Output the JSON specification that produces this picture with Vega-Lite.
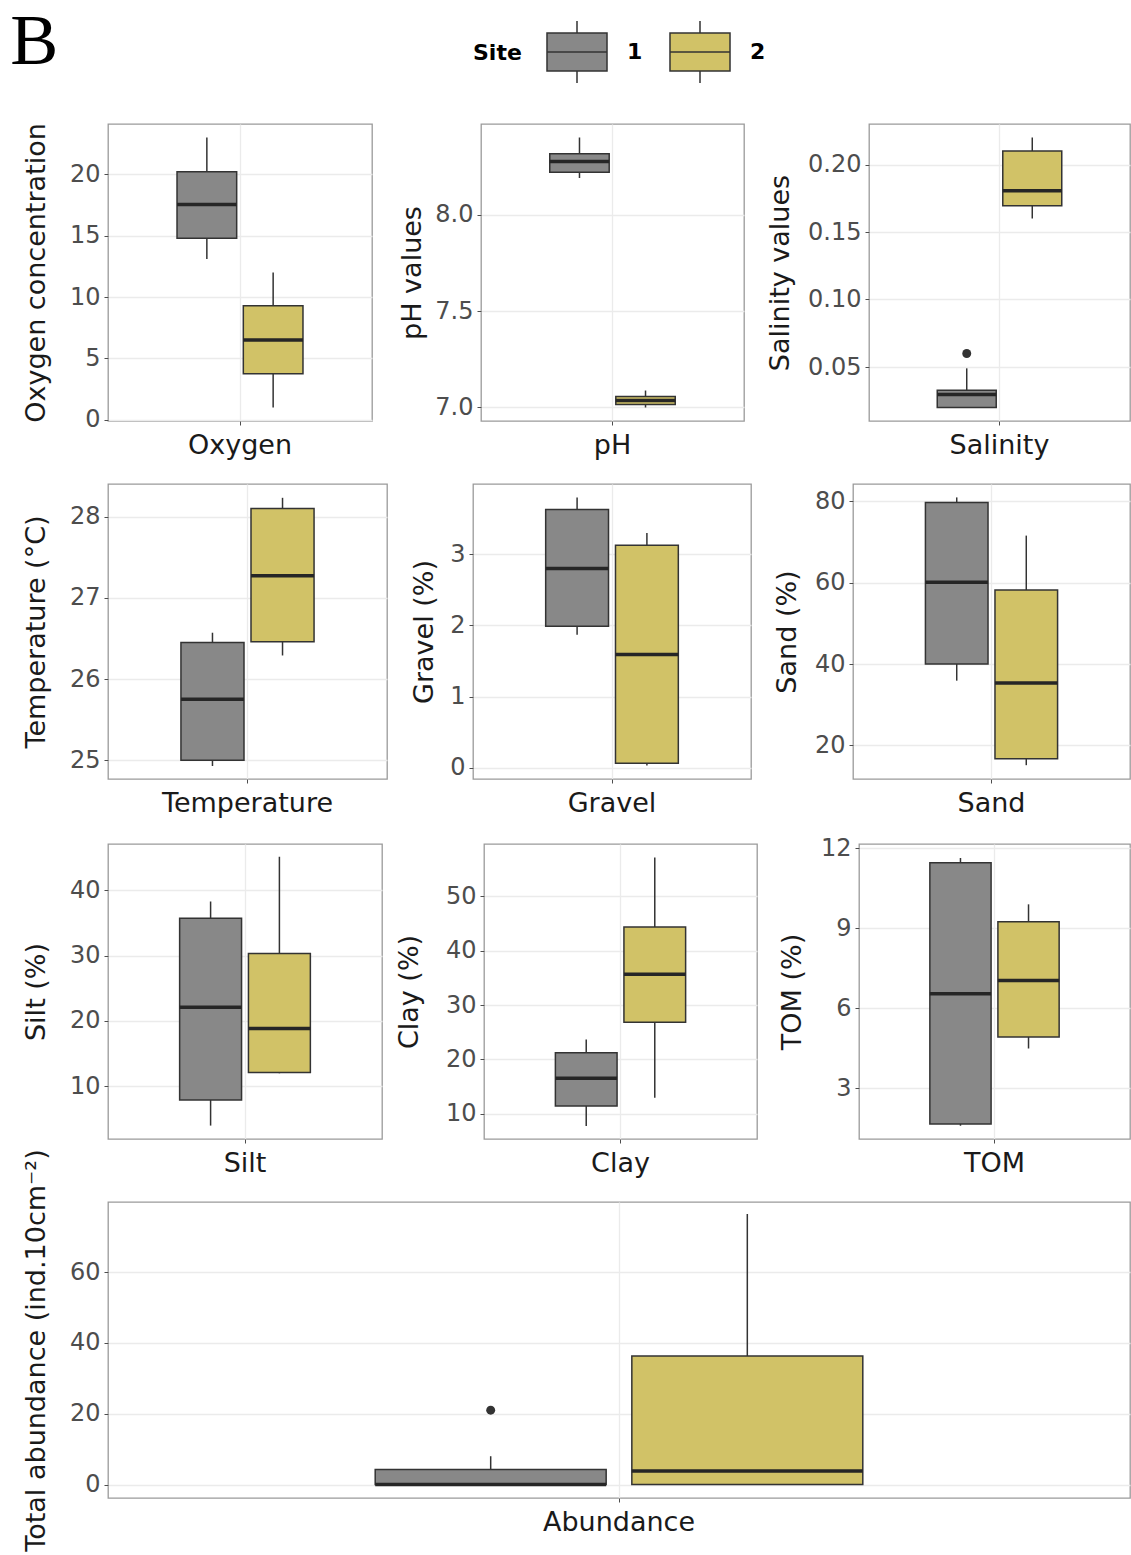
{
  "$schema": "https://vega.github.io/schema/vega-lite/v6.json",
  "background": "white",
  "padding": {"left": 10, "top": 6, "right": 1, "bottom": 0},
  "title": {"text": "B", "anchor": "start", "font": "Liberation Serif", "fontSize": 72, "fontWeight": "normal", "color": "#000000", "offset": 0, "dx": -12, "dy": 59},
  "datasets": {
    "boxes": [
      {"var": "Oxygen", "site": "1", "lo": 13.1, "q1": 14.8, "med": 17.55, "q3": 20.2, "hi": 23.0},
      {"var": "Oxygen", "site": "2", "lo": 1.0, "q1": 3.75, "med": 6.5, "q3": 9.3, "hi": 12.0},
      {"var": "pH", "site": "1", "lo": 8.19, "q1": 8.22, "med": 8.275, "q3": 8.316, "hi": 8.40},
      {"var": "pH", "site": "2", "lo": 7.0, "q1": 7.015, "med": 7.036, "q3": 7.057, "hi": 7.088},
      {"var": "Salinity", "site": "1", "lo": 0.02, "q1": 0.02, "med": 0.0297, "q3": 0.0327, "hi": 0.049},
      {"var": "Salinity", "site": "2", "lo": 0.16, "q1": 0.1694, "med": 0.1805, "q3": 0.21, "hi": 0.22},
      {"var": "Temperature", "site": "1", "lo": 24.93, "q1": 25.0, "med": 25.75, "q3": 26.45, "hi": 26.57},
      {"var": "Temperature", "site": "2", "lo": 26.29, "q1": 26.46, "med": 27.27, "q3": 28.10, "hi": 28.23},
      {"var": "Gravel", "site": "1", "lo": 1.87, "q1": 1.99, "med": 2.80, "q3": 3.63, "hi": 3.80},
      {"var": "Gravel", "site": "2", "lo": 0.03, "q1": 0.06, "med": 1.59, "q3": 3.13, "hi": 3.30},
      {"var": "Sand", "site": "1", "lo": 35.9, "q1": 40.0, "med": 60.1, "q3": 79.75, "hi": 81.0},
      {"var": "Sand", "site": "2", "lo": 15.1, "q1": 16.7, "med": 35.3, "q3": 58.2, "hi": 71.6},
      {"var": "Silt", "site": "1", "lo": 4.0, "q1": 7.9, "med": 22.1, "q3": 35.7, "hi": 38.26},
      {"var": "Silt", "site": "2", "lo": 12.0, "q1": 12.1, "med": 18.85, "q3": 30.3, "hi": 45.1},
      {"var": "Clay", "site": "1", "lo": 7.74, "q1": 11.4, "med": 16.5, "q3": 21.2, "hi": 23.67},
      {"var": "Clay", "site": "2", "lo": 12.94, "q1": 26.85, "med": 35.7, "q3": 44.36, "hi": 57.17},
      {"var": "TOM", "site": "1", "lo": 1.60, "q1": 1.66, "med": 6.54, "q3": 11.45, "hi": 11.63},
      {"var": "TOM", "site": "2", "lo": 4.49, "q1": 4.92, "med": 7.04, "q3": 9.24, "hi": 9.89},
      {"var": "Abundance", "site": "1", "lo": 0, "q1": 0, "med": 0, "q3": 4.25, "hi": 8.0},
      {"var": "Abundance", "site": "2", "lo": 0, "q1": 0, "med": 3.86, "q3": 36.3, "hi": 76.4}
    ],
    "outliers": [
      {"var": "Salinity", "site": "1", "value": 0.06},
      {"var": "Abundance", "site": "1", "value": 21.0}
    ]
  },
  "vconcat": [
    {
      "hconcat": [
        {
          "width": 264, "height": 297,
          "data": {"name": "boxes"},
          "transform": [{"filter": "datum.var === 'Oxygen'"}],
          "encoding": {
            "x": {"field": "var", "type": "nominal", "scale": {"paddingOuter": 0.548, "paddingInner": 0}, "axis": {"title": null, "labelAngle": 0, "labelFontSize": 27, "labelColor": "#1a1a1a", "labelPadding": 7, "grid": true, "bandPosition": 0.5}},
            "xOffset": {"field": "site", "type": "nominal", "scale": {"domain": ["1", "2"], "paddingInner": 0.1, "paddingOuter": 0}}
          },
          "layer": [
            {"mark": {"type": "rule", "color": "#333333", "strokeWidth": 1.5}, "encoding": {"y": {"field": "lo", "type": "quantitative", "scale": {"domain": [-0.1, 24.1], "nice": false, "zero": false}, "axis": {"title": "Oxygen concentration", "titlePadding": 18.5, "values": [0, 5, 10, 15, 20], "format": "d"}}, "y2": {"field": "hi"}}},
            {"mark": {"type": "bar", "stroke": "#333333", "strokeWidth": 1.5}, "encoding": {"y": {"field": "q1", "type": "quantitative"}, "y2": {"field": "q3"}, "fill": {"field": "site", "type": "nominal", "scale": {"domain": ["1", "2"], "range": ["#888888", "#D1C267"]}, "legend": {"title": "Site", "orient": "none", "legendX": 365, "legendY": -104, "direction": "horizontal", "titleOrient": "left"}}}},
            {"mark": {"type": "bar", "fill": "transparent", "stroke": "#262626", "strokeWidth": 3.5}, "encoding": {"y": {"field": "med", "type": "quantitative"}, "y2": {"field": "med"}}}
          ]
        },
        {
          "hconcat": [
            {
              "width": 263, "height": 297,
              "data": {"name": "boxes"},
              "transform": [{"filter": "datum.var === 'pH'"}],
              "encoding": {
                "x": {"field": "var", "type": "nominal", "scale": {"paddingOuter": 0.548, "paddingInner": 0}, "axis": {"title": null, "labelAngle": 0, "labelFontSize": 27, "labelColor": "#1a1a1a", "labelPadding": 7, "grid": true, "bandPosition": 0.5}},
                "xOffset": {"field": "site", "type": "nominal", "scale": {"domain": ["1", "2"], "paddingInner": 0.1, "paddingOuter": 0}}
              },
              "layer": [
                {"mark": {"type": "rule", "color": "#333333", "strokeWidth": 1.5}, "encoding": {"y": {"field": "lo", "type": "quantitative", "scale": {"domain": [6.93, 8.47], "nice": false, "zero": false}, "axis": {"title": "pH values", "titlePadding": 8, "values": [7.0, 7.5, 8.0], "format": ".1f"}}, "y2": {"field": "hi"}}},
                {"mark": {"type": "bar", "stroke": "#333333", "strokeWidth": 1.5}, "encoding": {"y": {"field": "q1", "type": "quantitative"}, "y2": {"field": "q3"}, "fill": {"field": "site", "type": "nominal", "scale": {"domain": ["1", "2"], "range": ["#888888", "#D1C267"]}, "legend": {"title": "Site", "orient": "none", "legendX": 365, "legendY": -104, "direction": "horizontal", "titleOrient": "left"}}}},
                {"mark": {"type": "bar", "fill": "transparent", "stroke": "#262626", "strokeWidth": 3.5}, "encoding": {"y": {"field": "med", "type": "quantitative"}, "y2": {"field": "med"}}}
              ]
            },
            {
              "width": 261, "height": 297,
              "data": {"name": "boxes"},
              "transform": [{"filter": "datum.var === 'Salinity'"}],
              "encoding": {
                "x": {"field": "var", "type": "nominal", "scale": {"paddingOuter": 0.548, "paddingInner": 0}, "axis": {"title": null, "labelAngle": 0, "labelFontSize": 27, "labelColor": "#1a1a1a", "labelPadding": 7, "grid": true, "bandPosition": 0.5}},
                "xOffset": {"field": "site", "type": "nominal", "scale": {"domain": ["1", "2"], "paddingInner": 0.1, "paddingOuter": 0}}
              },
              "layer": [
                {"mark": {"type": "rule", "color": "#333333", "strokeWidth": 1.5}, "encoding": {"y": {"field": "lo", "type": "quantitative", "scale": {"domain": [0.01, 0.23], "nice": false, "zero": false}, "axis": {"title": "Salinity values", "titlePadding": 13.5, "values": [0.05, 0.1, 0.15, 0.2], "format": ".2f"}}, "y2": {"field": "hi"}}},
                {"mark": {"type": "bar", "stroke": "#333333", "strokeWidth": 1.5}, "encoding": {"y": {"field": "q1", "type": "quantitative"}, "y2": {"field": "q3"}, "fill": {"field": "site", "type": "nominal", "scale": {"domain": ["1", "2"], "range": ["#888888", "#D1C267"]}, "legend": {"title": "Site", "orient": "none", "legendX": 365, "legendY": -104, "direction": "horizontal", "titleOrient": "left"}}}},
                {"mark": {"type": "bar", "fill": "transparent", "stroke": "#262626", "strokeWidth": 3.5}, "encoding": {"y": {"field": "med", "type": "quantitative"}, "y2": {"field": "med"}}},
                {"data": {"name": "outliers"}, "transform": [{"filter": "datum.var === 'Salinity'"}], "mark": {"type": "point", "filled": true, "color": "#333333", "size": 80, "opacity": 1}, "encoding": {"y": {"field": "value", "type": "quantitative"}}}
              ]
            }
          ],
          "spacing": 20,
          "resolve": {"scale": {"xOffset": "independent"}}
        }
      ],
      "spacing": 25,
      "resolve": {"scale": {"xOffset": "independent"}}
    },
    {
      "vconcat": [
        {
          "hconcat": [
            {
              "width": 279, "height": 295,
              "data": {"name": "boxes"},
              "transform": [{"filter": "datum.var === 'Temperature'"}],
              "encoding": {
                "x": {"field": "var", "type": "nominal", "scale": {"paddingOuter": 0.548, "paddingInner": 0}, "axis": {"title": null, "labelAngle": 0, "labelFontSize": 27, "labelColor": "#1a1a1a", "labelPadding": 7, "grid": true, "bandPosition": 0.5}},
                "xOffset": {"field": "site", "type": "nominal", "scale": {"domain": ["1", "2"], "paddingInner": 0.1, "paddingOuter": 0}}
              },
              "layer": [
                {"mark": {"type": "rule", "color": "#333333", "strokeWidth": 1.5}, "encoding": {"y": {"field": "lo", "type": "quantitative", "scale": {"domain": [24.77, 28.40], "nice": false, "zero": false}, "axis": {"title": "Temperature (°C)", "titlePadding": 18.5, "values": [25, 26, 27, 28], "format": "d"}}, "y2": {"field": "hi"}}},
                {"mark": {"type": "bar", "stroke": "#333333", "strokeWidth": 1.5}, "encoding": {"y": {"field": "q1", "type": "quantitative"}, "y2": {"field": "q3"}, "fill": {"field": "site", "type": "nominal", "scale": {"domain": ["1", "2"], "range": ["#888888", "#D1C267"]}, "legend": {"title": "Site", "orient": "none", "legendX": 365, "legendY": -104, "direction": "horizontal", "titleOrient": "left"}}}},
                {"mark": {"type": "bar", "fill": "transparent", "stroke": "#262626", "strokeWidth": 3.5}, "encoding": {"y": {"field": "med", "type": "quantitative"}, "y2": {"field": "med"}}}
              ]
            },
            {
              "width": 278, "height": 295,
              "data": {"name": "boxes"},
              "transform": [{"filter": "datum.var === 'Gravel'"}],
              "encoding": {
                "x": {"field": "var", "type": "nominal", "scale": {"paddingOuter": 0.548, "paddingInner": 0}, "axis": {"title": null, "labelAngle": 0, "labelFontSize": 27, "labelColor": "#1a1a1a", "labelPadding": 7, "grid": true, "bandPosition": 0.5}},
                "xOffset": {"field": "site", "type": "nominal", "scale": {"domain": ["1", "2"], "paddingInner": 0.1, "paddingOuter": 0}}
              },
              "layer": [
                {"mark": {"type": "rule", "color": "#333333", "strokeWidth": 1.5}, "encoding": {"y": {"field": "lo", "type": "quantitative", "scale": {"domain": [-0.16, 3.99], "nice": false, "zero": false}, "axis": {"title": "Gravel (%)", "titlePadding": 11.5, "values": [0, 1, 2, 3], "format": "d"}}, "y2": {"field": "hi"}}},
                {"mark": {"type": "bar", "stroke": "#333333", "strokeWidth": 1.5}, "encoding": {"y": {"field": "q1", "type": "quantitative"}, "y2": {"field": "q3"}, "fill": {"field": "site", "type": "nominal", "scale": {"domain": ["1", "2"], "range": ["#888888", "#D1C267"]}, "legend": {"title": "Site", "orient": "none", "legendX": 365, "legendY": -104, "direction": "horizontal", "titleOrient": "left"}}}},
                {"mark": {"type": "bar", "fill": "transparent", "stroke": "#262626", "strokeWidth": 3.5}, "encoding": {"y": {"field": "med", "type": "quantitative"}, "y2": {"field": "med"}}}
              ]
            },
            {
              "width": 277, "height": 295,
              "data": {"name": "boxes"},
              "transform": [{"filter": "datum.var === 'Sand'"}],
              "encoding": {
                "x": {"field": "var", "type": "nominal", "scale": {"paddingOuter": 0.548, "paddingInner": 0}, "axis": {"title": null, "labelAngle": 0, "labelFontSize": 27, "labelColor": "#1a1a1a", "labelPadding": 7, "grid": true, "bandPosition": 0.5}},
                "xOffset": {"field": "site", "type": "nominal", "scale": {"domain": ["1", "2"], "paddingInner": 0.1, "paddingOuter": 0}}
              },
              "layer": [
                {"mark": {"type": "rule", "color": "#333333", "strokeWidth": 1.5}, "encoding": {"y": {"field": "lo", "type": "quantitative", "scale": {"domain": [11.7, 84.3], "nice": false, "zero": false}, "axis": {"title": "Sand (%)", "titlePadding": 12.5, "values": [20, 40, 60, 80], "format": "d"}}, "y2": {"field": "hi"}}},
                {"mark": {"type": "bar", "stroke": "#333333", "strokeWidth": 1.5}, "encoding": {"y": {"field": "q1", "type": "quantitative"}, "y2": {"field": "q3"}, "fill": {"field": "site", "type": "nominal", "scale": {"domain": ["1", "2"], "range": ["#888888", "#D1C267"]}, "legend": {"title": "Site", "orient": "none", "legendX": 365, "legendY": -104, "direction": "horizontal", "titleOrient": "left"}}}},
                {"mark": {"type": "bar", "fill": "transparent", "stroke": "#262626", "strokeWidth": 3.5}, "encoding": {"y": {"field": "med", "type": "quantitative"}, "y2": {"field": "med"}}}
              ]
            }
          ],
          "spacing": 21,
          "resolve": {"scale": {"xOffset": "independent"}}
        },
        {
          "vconcat": [
            {
              "hconcat": [
                {
                  "width": 274, "height": 295,
                  "data": {"name": "boxes"},
                  "transform": [{"filter": "datum.var === 'Silt'"}],
                  "encoding": {
                    "x": {"field": "var", "type": "nominal", "scale": {"paddingOuter": 0.548, "paddingInner": 0}, "axis": {"title": null, "labelAngle": 0, "labelFontSize": 27, "labelColor": "#1a1a1a", "labelPadding": 7, "grid": true, "bandPosition": 0.5}},
                    "xOffset": {"field": "site", "type": "nominal", "scale": {"domain": ["1", "2"], "paddingInner": 0.1, "paddingOuter": 0}}
                  },
                  "layer": [
                    {"mark": {"type": "rule", "color": "#333333", "strokeWidth": 1.5}, "encoding": {"y": {"field": "lo", "type": "quantitative", "scale": {"domain": [1.95, 47.05], "nice": false, "zero": false}, "axis": {"title": "Silt (%)", "titlePadding": 18.5, "values": [10, 20, 30, 40], "format": "d"}}, "y2": {"field": "hi"}}},
                    {"mark": {"type": "bar", "stroke": "#333333", "strokeWidth": 1.5}, "encoding": {"y": {"field": "q1", "type": "quantitative"}, "y2": {"field": "q3"}, "fill": {"field": "site", "type": "nominal", "scale": {"domain": ["1", "2"], "range": ["#888888", "#D1C267"]}, "legend": {"title": "Site", "orient": "none", "legendX": 365, "legendY": -104, "direction": "horizontal", "titleOrient": "left"}}}},
                    {"mark": {"type": "bar", "fill": "transparent", "stroke": "#262626", "strokeWidth": 3.5}, "encoding": {"y": {"field": "med", "type": "quantitative"}, "y2": {"field": "med"}}}
                  ]
                },
                {
                  "hconcat": [
                    {
                      "width": 273, "height": 295,
                      "data": {"name": "boxes"},
                      "transform": [{"filter": "datum.var === 'Clay'"}],
                      "encoding": {
                        "x": {"field": "var", "type": "nominal", "scale": {"paddingOuter": 0.548, "paddingInner": 0}, "axis": {"title": null, "labelAngle": 0, "labelFontSize": 27, "labelColor": "#1a1a1a", "labelPadding": 7, "grid": true, "bandPosition": 0.5}},
                        "xOffset": {"field": "site", "type": "nominal", "scale": {"domain": ["1", "2"], "paddingInner": 0.1, "paddingOuter": 0}}
                      },
                      "layer": [
                        {"mark": {"type": "rule", "color": "#333333", "strokeWidth": 1.5}, "encoding": {"y": {"field": "lo", "type": "quantitative", "scale": {"domain": [5.33, 59.67], "nice": false, "zero": false}, "axis": {"title": "Clay (%)", "titlePadding": 21.5, "values": [10, 20, 30, 40, 50], "format": "d"}}, "y2": {"field": "hi"}}},
                        {"mark": {"type": "bar", "stroke": "#333333", "strokeWidth": 1.5}, "encoding": {"y": {"field": "q1", "type": "quantitative"}, "y2": {"field": "q3"}, "fill": {"field": "site", "type": "nominal", "scale": {"domain": ["1", "2"], "range": ["#888888", "#D1C267"]}, "legend": {"title": "Site", "orient": "none", "legendX": 365, "legendY": -104, "direction": "horizontal", "titleOrient": "left"}}}},
                        {"mark": {"type": "bar", "fill": "transparent", "stroke": "#262626", "strokeWidth": 3.5}, "encoding": {"y": {"field": "med", "type": "quantitative"}, "y2": {"field": "med"}}}
                      ]
                    },
                    {
                      "width": 271, "height": 295,
                      "data": {"name": "boxes"},
                      "transform": [{"filter": "datum.var === 'TOM'"}],
                      "encoding": {
                        "x": {"field": "var", "type": "nominal", "scale": {"paddingOuter": 0.548, "paddingInner": 0}, "axis": {"title": null, "labelAngle": 0, "labelFontSize": 27, "labelColor": "#1a1a1a", "labelPadding": 7, "grid": true, "bandPosition": 0.5}},
                        "xOffset": {"field": "site", "type": "nominal", "scale": {"domain": ["1", "2"], "paddingInner": 0.1, "paddingOuter": 0}}
                      },
                      "layer": [
                        {"mark": {"type": "rule", "color": "#333333", "strokeWidth": 1.5}, "encoding": {"y": {"field": "lo", "type": "quantitative", "scale": {"domain": [1.1, 12.15], "nice": false, "zero": false}, "axis": {"title": "TOM (%)", "titlePadding": 13.5, "values": [3, 6, 9, 12], "format": "d"}}, "y2": {"field": "hi"}}},
                        {"mark": {"type": "bar", "stroke": "#333333", "strokeWidth": 1.5}, "encoding": {"y": {"field": "q1", "type": "quantitative"}, "y2": {"field": "q3"}, "fill": {"field": "site", "type": "nominal", "scale": {"domain": ["1", "2"], "range": ["#888888", "#D1C267"]}, "legend": {"title": "Site", "orient": "none", "legendX": 365, "legendY": -104, "direction": "horizontal", "titleOrient": "left"}}}},
                        {"mark": {"type": "bar", "fill": "transparent", "stroke": "#262626", "strokeWidth": 3.5}, "encoding": {"y": {"field": "med", "type": "quantitative"}, "y2": {"field": "med"}}}
                      ]
                    }
                  ],
                  "spacing": 20,
                  "resolve": {"scale": {"xOffset": "independent"}}
                }
              ],
              "spacing": 12,
              "resolve": {"scale": {"xOffset": "independent"}}
            },
            {
              "width": 1022, "height": 296,
              "data": {"name": "boxes"},
              "transform": [{"filter": "datum.var === 'Abundance'"}],
              "encoding": {
                "x": {"field": "var", "type": "nominal", "scale": {"paddingOuter": 0.548, "paddingInner": 0}, "axis": {"title": null, "labelAngle": 0, "labelFontSize": 27, "labelColor": "#1a1a1a", "labelPadding": 7, "grid": true, "bandPosition": 0.5}},
                "xOffset": {"field": "site", "type": "nominal", "scale": {"domain": ["1", "2"], "paddingInner": 0.1, "paddingOuter": 0}}
              },
              "layer": [
                {"mark": {"type": "rule", "color": "#333333", "strokeWidth": 1.5}, "encoding": {"y": {"field": "lo", "type": "quantitative", "scale": {"domain": [-3.8, 79.8], "nice": false, "zero": false}, "axis": {"title": "Total abundance (ind.10cm⁻²)", "titlePadding": 18.5, "values": [0, 20, 40, 60], "format": "d"}}, "y2": {"field": "hi"}}},
                {"mark": {"type": "bar", "stroke": "#333333", "strokeWidth": 1.5}, "encoding": {"y": {"field": "q1", "type": "quantitative"}, "y2": {"field": "q3"}, "fill": {"field": "site", "type": "nominal", "scale": {"domain": ["1", "2"], "range": ["#888888", "#D1C267"]}, "legend": {"title": "Site", "orient": "none", "legendX": 365, "legendY": -104, "direction": "horizontal", "titleOrient": "left"}}}},
                {"mark": {"type": "bar", "fill": "transparent", "stroke": "#262626", "strokeWidth": 3.5}, "encoding": {"y": {"field": "med", "type": "quantitative"}, "y2": {"field": "med"}}},
                {"data": {"name": "outliers"}, "transform": [{"filter": "datum.var === 'Abundance'"}], "mark": {"type": "point", "filled": true, "color": "#333333", "size": 80, "opacity": 1}, "encoding": {"y": {"field": "value", "type": "quantitative"}}}
              ]
            }
          ],
          "spacing": -29,
          "resolve": {"scale": {"xOffset": "independent"}}
        }
      ],
      "spacing": 18,
      "resolve": {"scale": {"xOffset": "independent"}}
    }
  ],
  "spacing": 24,
  "resolve": {"scale": {"fill": "shared", "xOffset": "independent"}},
  "config": {
    "font": "DejaVu Sans",
    "view": {"stroke": "#9a9a9a", "strokeWidth": 1.3},
    "axis": {"labelFont": "DejaVu Sans", "titleFont": "DejaVu Sans", "labelFontSize": 24, "labelColor": "#4d4d4d", "titleFontSize": 27, "titleColor": "#1a1a1a", "titleFontWeight": "normal", "gridColor": "#ebebeb", "gridWidth": 1.3, "domain": false, "tickColor": "#4d4d4d", "tickSize": 4, "labelPadding": 4},
    "legend": {"symbolType": "M-0.968,-0.613H0.968V0.613H-0.968Z M-0.968,0H0.968 M0,-0.613V-1 M0,0.613V1", "symbolSize": 3844, "symbolStrokeColor": "#333333", "symbolStrokeWidth": 1.5, "symbolOpacity": 1, "labelFont": "DejaVu Sans", "labelFontSize": 22, "labelFontWeight": "bold", "labelColor": "#000000", "titleFont": "DejaVu Sans", "titleFontSize": 22, "titleFontWeight": "bold", "titleColor": "#000000", "titlePadding": 23, "labelOffset": 18, "columnPadding": 23}
  }
}
